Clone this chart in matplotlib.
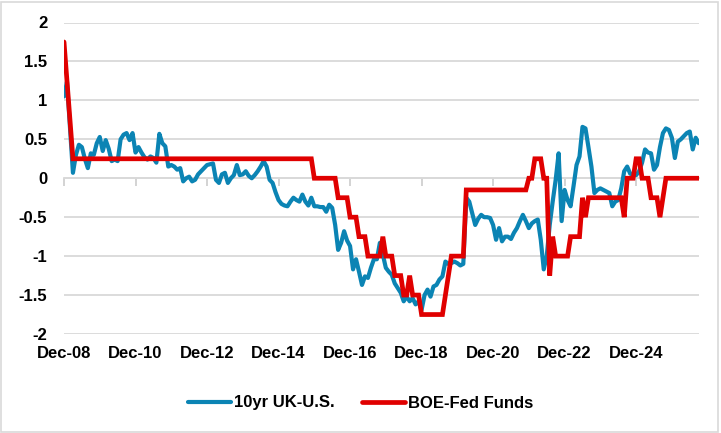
import numpy as np
import matplotlib
matplotlib.use('Agg')
import matplotlib.pyplot as plt
from matplotlib.patches import Rectangle

# monthly observations, Dec-08 onward
uk_us_10yr = [
    1.05, 1.24, 0.65, 0.07, 0.30, 0.43, 0.40, 0.25, 0.13, 0.32,
    0.30, 0.45, 0.53, 0.35, 0.49, 0.38, 0.22, 0.24, 0.22, 0.50,
    0.56, 0.58, 0.49, 0.58, 0.33, 0.40, 0.33, 0.27, 0.24, 0.28,
    0.26, 0.20, 0.57, 0.45, 0.41, 0.15, 0.17, 0.15, 0.11, 0.13,
    -0.04, 0.00, 0.02, -0.04, -0.02, 0.05, 0.09, 0.13, 0.17, 0.18,
    0.19, -0.02, -0.06, 0.05, 0.07, -0.06, 0.00, 0.04, 0.17, 0.04,
    0.05, 0.09, 0.03, 0.00, 0.04, 0.09, 0.15, 0.22, 0.15,
    -0.02, -0.06, -0.18, -0.28, -0.33, -0.35, -0.36, -0.30, -0.25, -0.28,
    -0.30, -0.21, -0.30, -0.35, -0.25, -0.36, -0.36, -0.37, -0.37, -0.43,
    -0.34, -0.38, -0.60, -0.92, -0.83, -0.68, -0.80, -0.87, -1.17, -1.04,
    -1.20, -1.37, -1.26, -1.28, -1.15, -1.04, -1.04, -0.83, -0.98, -1.15,
    -1.20, -1.24, -1.35, -1.41, -1.47, -1.58, -1.52, -1.58, -1.54, -1.62,
    -1.58, -1.69, -1.50, -1.43, -1.52, -1.39, -1.37, -1.30, -1.26, -1.07,
    -1.10, -1.09, -1.07, -1.09, -1.12, -1.10,
    -0.25, -0.30, -0.45, -0.60, -0.52, -0.47, -0.50, -0.50, -0.51, -0.60,
    -0.79, -0.64, -0.81, -0.75, -0.75, -0.78, -0.70, -0.64, -0.55, -0.47,
    -0.55, -0.64, -0.58, -0.55, -0.53, -0.79, -1.17, -1.00, -0.60, -0.30,
    -0.02, 0.32, -0.55, -0.15, -0.28, -0.36, -0.10, 0.17, 0.28, 0.66,
    0.64, 0.40, 0.15, -0.19, -0.15, -0.13, -0.15, -0.17, -0.19, -0.36,
    -0.30, -0.28, -0.13, 0.09, 0.15, 0.06, 0.04, 0.04, 0.09, 0.20,
    0.37, 0.33, 0.32, 0.11, 0.17, 0.40, 0.58, 0.64, 0.62, 0.52,
    0.26, 0.47, 0.50, 0.54, 0.58, 0.60, 0.37, 0.52, 0.45,
]

boe_fed = (
    [1.75, 1.25, 0.75] + [0.25] * 81 + [0.0] * 8 + [-0.25] * 4 + [-0.5] * 3
    + [-0.75] * 3 + [-1.0] * 5 + [-0.75] + [-1.0] * 3 + [-1.25] * 3
    + [-1.5] * 2 + [-1.25] + [-1.5] * 3 + [-1.75] * 8 + [-1.5, -1.25]
    + [-1.0] * 5 + [-0.15] * 21 + [0.0, 0.0] + [0.25] * 3 + [0.0, 0.0]
    + [-1.25, -0.75] + [-1.0] * 5 + [-0.75] * 4 + [-0.25, -0.5]
    + [-0.25] * 12 + [-0.5] + [0.0] * 3 + [0.25] * 2 + [0.0] * 3
    + [-0.25] * 3 + [-0.5, -0.25] + [0.0] * 12
)

tick_months = [0, 24, 48, 72, 96, 120, 144, 168, 192]
tick_labels = ['Dec-08', 'Dec-10', 'Dec-12', 'Dec-14', 'Dec-16',
               'Dec-18', 'Dec-20', 'Dec-22', 'Dec-24']

W, H = 721, 433
fig = plt.figure(figsize=(W / 100, H / 100), dpi=100)
ax = fig.add_axes([64 / W, (H - 334) / H, (698.7 - 64) / W, (334 - 22.5) / H])

months = np.arange(len(uk_us_10yr))
ax.plot(months, uk_us_10yr, color='#0B84B4', lw=3.0, label='10yr UK-U.S.',
        solid_joinstyle='round', solid_capstyle='round', zorder=3)
ax.plot(np.arange(len(boe_fed)), boe_fed, color='#E00000', lw=3.4,
        label='BOE-Fed Funds', solid_joinstyle='miter', solid_capstyle='round',
        zorder=4)

ax.set_xlim(0, len(uk_us_10yr) - 1)
ax.set_ylim(-2, 2)
ax.set_yticks(np.arange(-2, 2.01, 0.5))
ax.set_yticklabels(['-2', '-1.5', '-1', '-0.5', '0', '0.5', '1', '1.5', '2'])
ax.grid(axis='y', color='#D9D9D9', lw=1.3)
ax.set_axisbelow(True)
for name, s in ax.spines.items():
    s.set_visible(name == 'bottom')

# category axis crosses at zero, ticks hang below it
ax.spines['bottom'].set_position(('data', 0))
ax.spines['bottom'].set_color('#D9D9D9')
ax.spines['bottom'].set_linewidth(1.3)
ax.set_xticks(tick_months)
ax.tick_params(axis='x', length=6, width=1.3, color='#D0D0D0',
               direction='out', labelbottom=False)

font = dict(family='Liberation Sans', weight='bold', size=12)
ax.tick_params(axis='y', length=0, pad=12)
for lbl in ax.get_yticklabels():
    lbl.set_fontproperties(font)
    lbl.set_color('black')

# labels sit at the bottom of the plot area
sec = ax.secondary_xaxis('bottom')
sec.set_xticks(tick_months)
sec.set_xticklabels(tick_labels)
sec.tick_params(axis='x', length=0, pad=9)
for s in sec.spines.values():
    s.set_visible(False)
for lbl in sec.get_xticklabels():
    lbl.set_fontproperties(font)
    lbl.set_color('black')

fig.legend(loc='center', bbox_to_anchor=(0.5, 1 - 403 / H), ncol=2,
           frameon=False, prop=font, handlelength=2.6, columnspacing=1.6,
           handletextpad=0.2)

fig.patches.append(Rectangle((0.002, 0.003), 0.994, 0.993, transform=fig.transFigure,
                             fill=False, edgecolor='#D9D9D9', lw=1.2))

fig.savefig('out.png', dpi=100)
